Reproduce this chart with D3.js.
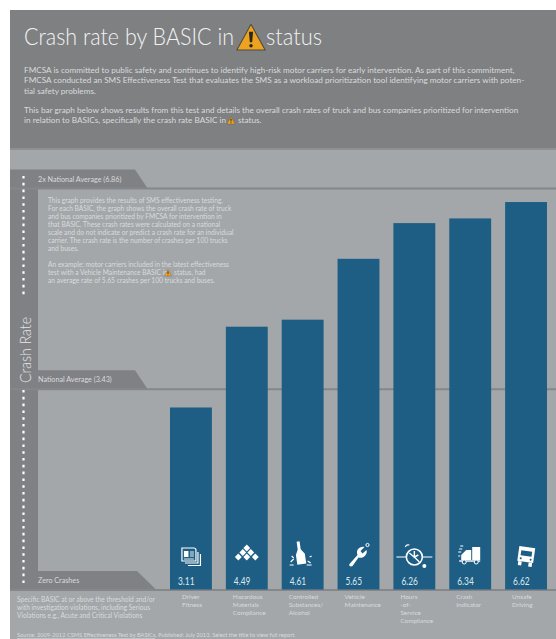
<!DOCTYPE html>
<html>
<head>
<meta charset="utf-8">
<script src="https://cdn.jsdelivr.net/npm/d3@7"></script>
<style>
html,body{margin:0;padding:0;background:#fff;}
svg{display:block;}
text{font-family:Lato,"Open Sans",sans-serif;}
</style>
</head>
<body>
<svg id="chart" width="556" height="639"></svg>
<script>
// Crash rate per BASIC, in crashes per 100 trucks and buses
const categories = ["Driver Fitness","Hazardous Materials Compliance","Controlled Substances/ Alcohol","Vehicle Maintenance","Hours -of- Service Compliance","Crash Indicator","Unsafe Driving"];
const categoryLines = [["Driver","Fitness"],["Hazardous","Materials","Compliance"],["Controlled","Substances/","Alcohol"],["Vehicle","Maintenance"],["Hours","-of-","Service","Compliance"],["Crash","Indicator"],["Unsafe","Driving"]];
const crashRates = [3.11,4.49,4.61,5.65,6.26,6.34,6.62];
const iconNames = ["docs","diamonds","bottle","wrench","clock","truck","bus"];
const levelValues = [6.86,3.43,0];
const levelLabels = ["2x National Average (6.86)","National Average (3.43)","Zero Crashes"];

const introLines = [
  ["FMCSA is committed to public safety and continues to identify high-risk motor carriers for early intervention. As part of this commitment,",70],
  ["FMCSA conducted an SMS Effectiveness Test that evaluates the SMS as a workload prioritization tool identifying motor carriers with poten-",80.5],
  ["tial safety problems.",91],
  ["This bar graph below shows results from this test and details the overall crash rates of truck and bus companies prioritized for intervention",110],
  ["in relation to BASICs, specifically the crash rate BASIC in",120.5]
];
const noteLines = [
  ["This graph provides the results of SMS effectiveness testing.",201],
  ["For each BASIC, the graph shows the overall crash rate of truck",209],
  ["and bus companies prioritized by FMCSA for intervention in",217],
  ["that BASIC. These crash rates were calculated on a national",225],
  ["scale and do not indicate or predict a crash rate for an individual",233],
  ["carrier. The crash rate is the number of crashes per 100 trucks",241],
  ["and buses.",249],
  ["An example: motor carriers included in the latest effectiveness",265],
  ["test with a Vehicle Maintenance BASIC in",273],
  ["an average rate of 5.65 crashes per 100 trucks and buses.",281]
];
const footLines = [
  ["Specific BASIC at or above the threshold and/or",600],
  ["with investigation violations, including Serious",608],
  ["Violations e.g., Acute and Critical Violations",616]
];

const svg = d3.select("#chart");
const C = {head:"#7f8082",panel:"#a3a7aa",band:"#808184",rule:"#85878a",bar:"#1e5e84",soft:"#d8dbdd",alert:"#eea320"};

const x = d3.scaleBand().domain(categories).range([170,547]).paddingInner(0.25).paddingOuter(0);
const y = d3.scaleLinear().domain([0,6.86]).range([589.5,188]);

// backgrounds
svg.append("rect").attr("x",10).attr("y",10).attr("width",546).attr("height",629).attr("fill",C.panel);
svg.append("rect").attr("x",10).attr("y",10).attr("width",546).attr("height",139).attr("fill",C.head);
svg.append("rect").attr("x",10).attr("y",148).attr("width",546).attr("height",2).attr("fill","#8e9093");

// left spine and level tabs
svg.append("rect").attr("x",10).attr("y",y(6.86)-18).attr("width",28).attr("height",y(0)-y(6.86)+18).attr("fill",C.band);
const tabW = [125,125,127], tabEnd = [148,148,157];
levelValues.forEach((v,i)=>{
  const yy = y(v), top = yy-18.5;
  svg.append("path").attr("fill",C.band)
    .attr("d",`M10,${top}H${10+tabW[i]}L${tabEnd[i]},${yy+1}H10Z`);
  svg.append("rect").attr("x",10).attr("y",yy-0.5).attr("width",546).attr("height",2).attr("fill",C.rule);
  svg.append("text").attr("x",38).attr("y",yy-9).attr("dy","0.35em")
    .attr("font-size",7.2).attr("fill",C.soft).text(levelLabels[i]);
});

// dotted axis with rotated title
svg.append("line").attr("x1",23.5).attr("x2",23.5).attr("y1",176).attr("y2",297)
  .attr("stroke","#fff").attr("stroke-width",2.2).attr("stroke-dasharray","2.6 4.2");
svg.append("line").attr("x1",23.5).attr("x2",23.5).attr("y1",390).attr("y2",585)
  .attr("stroke","#fff").attr("stroke-width",2.2).attr("stroke-dasharray","2.6 4.2");
svg.append("text").attr("transform","translate(31,383) rotate(-90)")
  .attr("font-size",16).attr("font-weight",300).attr("fill","#e6e8e9")
  .attr("textLength",66).attr("lengthAdjust","spacingAndGlyphs").text("Crash Rate");

// warning triangle, centred on (cx, cy)
function warning(cx,cy,s){
  const g = svg.append("g").attr("transform",`translate(${cx},${cy}) scale(${s})`);
  g.append("path").attr("d","M0,-13L13.5,11.5H-13.5Z").attr("fill",C.alert).attr("stroke","#4d4a42").attr("stroke-width",1).attr("stroke-linejoin","round");
  g.append("path").attr("d","M-2,-6H2L1.1,4H-1.1Z").attr("fill","#2a2722");
  g.append("circle").attr("cy",7.3).attr("r",1.7).attr("fill","#2a2722");
}

// heading
svg.append("text").attr("x",24).attr("y",45).attr("font-size",23.5).attr("font-weight",300).attr("fill","#f1f2f2")
  .attr("textLength",210).attr("lengthAdjust","spacingAndGlyphs").text("Crash rate by BASIC in");
svg.append("text").attr("x",266).attr("y",45).attr("font-size",23.5).attr("font-weight",300).attr("fill","#f1f2f2")
  .attr("textLength",56).attr("lengthAdjust","spacingAndGlyphs").text("status");
warning(251,38,1.05);

svg.selectAll("text.intro").data(introLines).join("text").attr("class","intro")
  .attr("x",24).attr("y",d=>d[1]).attr("dy","0.35em").attr("font-size",8.2).attr("fill",C.soft).text(d=>d[0]);
svg.append("text").attr("x",238).attr("y",120.5).attr("dy","0.35em").attr("font-size",8.2).attr("fill",C.soft).text("status.");
warning(231,120.5,0.3);

// explanatory note
svg.selectAll("text.note").data(noteLines).join("text").attr("class","note")
  .attr("x",48).attr("y",d=>d[1]).attr("dy","0.35em").attr("font-size",6.65).attr("fill",C.soft).text(d=>d[0]);
svg.append("text").attr("x",174).attr("y",273).attr("dy","0.35em").attr("font-size",6.65).attr("fill",C.soft).text("status, had");
warning(168,273,0.27);

// bars
svg.selectAll("rect.bar").data(crashRates).join("rect").attr("class","bar")
  .attr("x",(d,i)=>x(categories[i])).attr("width",x.bandwidth())
  .attr("y",d=>y(d)).attr("height",d=>y(0)-y(d)).attr("fill",C.bar);

// value labels
svg.selectAll("text.value").data(crashRates).join("text").attr("class","value")
  .attr("x",(d,i)=>x(categories[i])+8).attr("y",581).attr("dy","0.35em")
  .attr("font-size",11).attr("fill","#dfe7ec")
  .attr("textLength",16.5).attr("lengthAdjust","spacingAndGlyphs").text(d=>d.toFixed(2));

// category labels under the baseline
categoryLines.forEach((lines,i)=>{
  const off = i===0 ? 12 : 7;
  svg.append("g").selectAll("text").data(lines).join("text")
    .attr("x",x(categories[i])+off).attr("y",(d,j)=>597+j*8).attr("dy","0.35em")
    .attr("font-size",6.4).attr("fill",C.soft).text(d=>d);
});

// small pictograms inside the bars
const icons = {
  docs(g){
    g.append("path").attr("d","M-8,-8H4a2,2 0 0 1 2,2V5H-8Z M8,-4V7H-5").attr("fill","none").attr("stroke","#fff").attr("stroke-width",1.2);
    g.append("path").attr("d","M10.5,-2V9.5H-2").attr("fill","none").attr("stroke","#fff").attr("stroke-width",1.2);
    g.append("rect").attr("x",-6).attr("y",-5).attr("width",4.5).attr("height",6).attr("fill","#fff");
    g.append("path").attr("d","M0,-4H4M0,-2H4M0,0H4M-6,3H4").attr("stroke","#fff").attr("stroke-width",0.9);
  },
  diamonds(g){
    [[0,-7],[-4,-2.5],[4,-2.5],[-8.5,2],[0,2],[8.5,2]].forEach(p=>{
      g.append("path").attr("transform",`translate(${p[0]},${p[1]})`).attr("d","M0,-3.4L3.4,0L0,3.4L-3.4,0Z").attr("fill","#fff");
    });
  },
  bottle(g){
    g.append("path").attr("d","M-4,-15H-1V-7L2.5,-2V8H-6.5V-2L-4,-7Z").attr("fill","#fff").attr("transform","rotate(-8)");
    g.append("path").attr("d","M-12,6l3,-3M-13,9h4M-11,0l2,2M5,5l3,2M7,1l2,-1M4,9h5").attr("stroke","#fff").attr("stroke-width",1.1).attr("fill","none");
  },
  wrench(g){
    g.append("path").attr("d","M-9,9L-1,0C-3,-5 1,-9 6,-8L2,-4L4,-1.5L8,-5C9.5,0 4,4 0,2.5L-6,11C-8,12 -10,11 -9,9Z").attr("fill","#fff");
    g.append("circle").attr("cx",9).attr("cy",-10).attr("r",1.6).attr("fill","none").attr("stroke","#fff");
  },
  clock(g){
    g.append("circle").attr("r",8).attr("fill","none").attr("stroke","#fff").attr("stroke-width",1.6);
    g.append("path").attr("d","M-18,0H-8M8,0H18").attr("stroke","#fff").attr("stroke-width",1.2);
    g.append("path").attr("d","M-5,-4L1,1L5,5M0,-6L0,0L4,-2").attr("stroke","#fff").attr("stroke-width",1.4).attr("fill","none");
    g.append("circle").attr("cx",10).attr("cy",9).attr("r",2).attr("fill","#fff");
    g.append("path").attr("d","M-9,-10a3,3 0 0 1 4,-2").attr("stroke","#fff").attr("stroke-width",1.2).attr("fill","none");
  },
  truck(g){
    g.append("rect").attr("x",2).attr("y",-8).attr("width",8).attr("height",13).attr("fill","#fff");
    g.append("path").attr("d","M-9,5V0L-4,-5H1V5Z").attr("fill","#fff");
    g.append("path").attr("d","M-11,6H10").attr("stroke","#fff").attr("stroke-width",1.4);
    g.append("circle").attr("cx",-6).attr("cy",7).attr("r",2).attr("fill",C.bar).attr("stroke","#fff");
    g.append("circle").attr("cx",6).attr("cy",7).attr("r",2).attr("fill",C.bar).attr("stroke","#fff");
    g.append("path").attr("d","M-11,-6h3M-12,-3h3M-10,-9h3M-12,1h2").attr("stroke","#fff").attr("stroke-width",1.1);
  },
  bus(g){
    const b = g.append("g").attr("transform","rotate(8)");
    b.append("path").attr("d","M-8,-9H8V6H-8Z").attr("fill","#fff");
    b.append("rect").attr("x",-5.5).attr("y",-5).attr("width",11).attr("height",5).attr("fill",C.bar);
    b.append("rect").attr("x",-7).attr("y",6).attr("width",3.5).attr("height",4).attr("fill","#fff");
    b.append("rect").attr("x",3.5).attr("y",6).attr("width",3.5).attr("height",4).attr("fill","#fff");
    b.append("circle").attr("cx",-5).attr("cy",3).attr("r",1).attr("fill",C.bar);
    b.append("circle").attr("cx",5).attr("cy",3).attr("r",1).attr("fill",C.bar);
  }
};
const iconOffsetY = [556,555,556,555,557,555,556];
iconNames.forEach((n,i)=>{
  const g = svg.append("g").attr("transform",`translate(${x(categories[i])+x.bandwidth()/2-(i===0?1:0)},${iconOffsetY[i]})`);
  icons[n](g);
});

// explanatory footnote and source line
svg.selectAll("text.foot").data(footLines).join("text").attr("class","foot")
  .attr("x",17).attr("y",d=>d[1]).attr("dy","0.35em").attr("font-size",6.6).attr("fill",C.soft).text(d=>d[0]);
const src = svg.append("text").attr("x",17).attr("y",635).attr("dy","0.35em").attr("font-size",5.7).attr("fill",C.soft);
src.append("tspan").attr("text-decoration","underline").text("Source: 2009-2012 CSMS Effectiveness Test by BASICs");
src.append("tspan").text(". Published: July 2013. Select the title to view full report.");
</script>
</body>
</html>
